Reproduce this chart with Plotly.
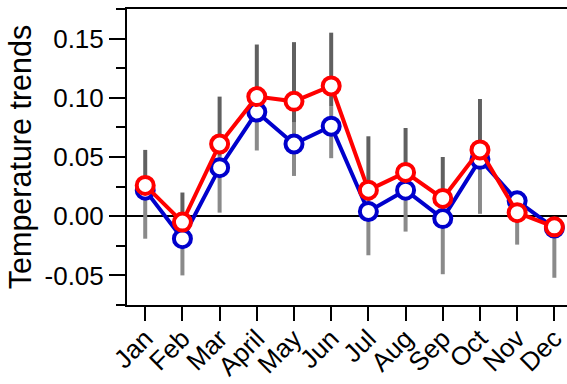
import plotly.graph_objects as go

months = ["Jan", "Feb", "Mar", "April", "May", "Jun", "Jul", "Aug", "Sep", "Oct", "Nov", "Dec"]
blue_vals = [0.022, -0.019, 0.041, 0.088, 0.061, 0.076, 0.004, 0.022, -0.002, 0.048, 0.013, -0.010]
red_vals = [0.026, -0.005, 0.061, 0.101, 0.097, 0.110, 0.022, 0.037, 0.015, 0.056, 0.003, -0.009]
err_upper = [0.056, 0.020, 0.101, 0.145, 0.147, 0.155, 0.0675, 0.0745, 0.050, 0.099, 0.017, -0.003]
err_lower = [-0.019, -0.050, 0.003, 0.0555, 0.034, 0.049, -0.033, -0.013, -0.049, 0.002, -0.024, -0.052]
y_tickvals = [-0.05, 0.0, 0.05, 0.10, 0.15]
y_ticktext = ["-0.05", "0.00", "0.05", "0.10", "0.15"]

x = list(range(len(months)))
center = [(r + b) / 2 for r, b in zip(red_vals, blue_vals)]

fig = go.Figure()
# lower (light gray) part of the ranges
fig.add_trace(go.Scatter(
    x=x, y=center, mode="markers", marker=dict(size=0.1, opacity=0),
    error_y=dict(type="data", symmetric=False,
                 array=[0] * len(x),
                 arrayminus=[c - l for c, l in zip(center, err_lower)],
                 color="#8a8a8a", thickness=4, width=0),
    showlegend=False, hoverinfo="skip"))
# upper (dark gray) part of the ranges
fig.add_trace(go.Scatter(
    x=x, y=center, mode="markers", marker=dict(size=0.1, opacity=0),
    error_y=dict(type="data", symmetric=False,
                 array=[u - c for u, c in zip(err_upper, center)],
                 arrayminus=[0] * len(x),
                 color="#606060", thickness=4, width=0),
    showlegend=False, hoverinfo="skip"))

fig.add_trace(go.Scatter(
    x=x, y=blue_vals, mode="lines+markers",
    line=dict(color="#0000cc", width=4),
    marker=dict(size=17, color="white", line=dict(color="#0000cc", width=4)),
    showlegend=False))
fig.add_trace(go.Scatter(
    x=x, y=red_vals, mode="lines+markers",
    line=dict(color="#ff0000", width=4),
    marker=dict(size=17, color="white", line=dict(color="#ff0000", width=4)),
    showlegend=False))

font = "Liberation Sans, Arial, sans-serif"
fig.update_layout(
    width=567, height=384,
    margin=dict(l=127, r=0, t=9, b=79),
    paper_bgcolor="white", plot_bgcolor="white",
    font=dict(family=font, color="black"),
    xaxis=dict(
        range=[-0.49, 11.34], tickvals=x, ticktext=months, tickangle=-45,
        ticks="outside", ticklen=14, tickwidth=2, tickcolor="black",
        showline=True, linecolor="black", linewidth=2, mirror=True,
        showgrid=False, zeroline=False, automargin=False,
        ticklabeloverflow="allow", ticklabelstandoff=-8,
        tickfont=dict(size=26, family=font)),
    yaxis=dict(
        range=[-0.075, 0.175], tickvals=y_tickvals, ticktext=y_ticktext,
        ticks="outside", ticklen=16, tickwidth=2, tickcolor="black",
        minor=dict(tickvals=[-0.075, -0.025, 0.025, 0.075, 0.125, 0.175],
                   ticks="outside", ticklen=9, tickwidth=2, tickcolor="black"),
        showline=True, linecolor="black", linewidth=2, mirror=False,
        showgrid=False, zeroline=True, zerolinecolor="black", zerolinewidth=2,
        automargin=False,
        tickfont=dict(size=26, family=font),
        title=dict(text="Temperature trends", font=dict(size=30.5, family=font), standoff=4)),
)

fig.write_html("out.html", config={"displayModeBar": False},
               post_script="document.body.style.margin='0';document.body.style.padding='0';")
